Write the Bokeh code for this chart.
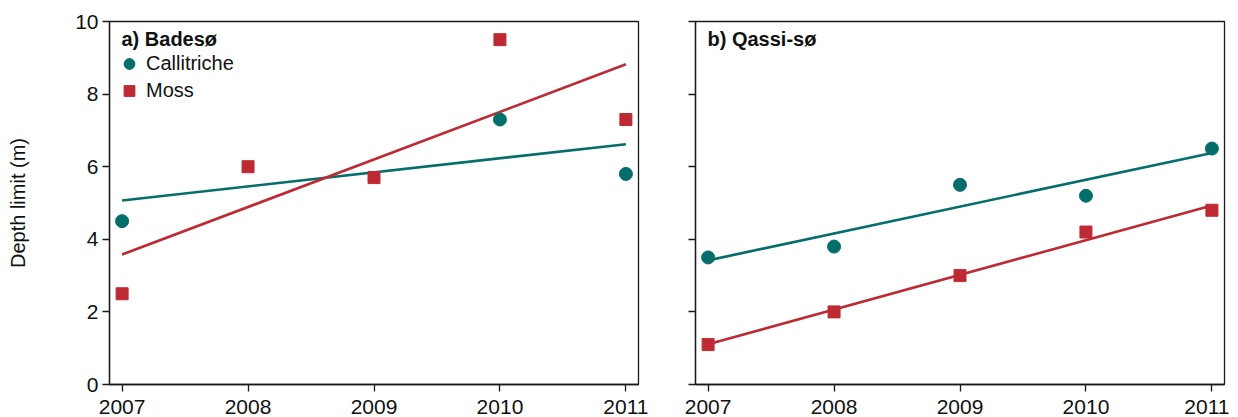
from bokeh.plotting import figure
from bokeh.layouts import row
from bokeh.models import Legend, LegendItem, Label, FixedTicker, Range1d
from bokeh.embed import file_html
from bokeh.resources import INLINE

# ---- data ----
years = [2007, 2008, 2009, 2010, 2011]
bad_call_years = [2007, 2010, 2011]
bad_call = [4.5, 7.3, 5.8]
bad_moss = [2.5, 6.0, 5.7, 9.5, 7.3]
qas_call = [3.5, 3.8, 5.5, 5.2, 6.5]
qas_moss = [1.1, 2.0, 3.0, 4.2, 4.8]
fit_years = [2007, 2011]
bad_call_fit = [5.07, 6.62]
bad_moss_fit = [3.58, 8.82]
qas_call_fit = [3.42, 6.38]
qas_moss_fit = [1.11, 4.93]
yticks = [0, 2, 4, 6, 8, 10]
titles = ["a) Badesø", "b) Qassi-sø"]

TEAL = "#046e6b"
RED = "#be2a33"
FONT = "Liberation Sans"


def make_fig(left_border, right_border, show_ylabels):
    p = figure(frame_width=529, frame_height=363,
               x_range=Range1d(2006.9, 2011.1), y_range=Range1d(0, 10),
               output_backend="svg", toolbar_location=None,
               min_border_left=left_border, min_border_right=right_border,
               min_border_top=21, min_border_bottom=30)
    p.grid.visible = False
    p.outline_line_color = "#1a1a1a"
    p.outline_line_width = 1.3
    p.background_fill_color = "white"
    p.border_fill_color = "white"
    for ax in (p.xaxis[0], p.yaxis[0]):
        ax.axis_line_color = "#1a1a1a"
        ax.axis_line_width = 1.3
        ax.major_tick_line_color = "#1a1a1a"
        ax.major_tick_line_width = 1.3
        ax.major_tick_in = 0
        ax.major_tick_out = 7
        ax.minor_tick_line_color = None
        ax.major_label_text_font = FONT
        ax.major_label_text_font_size = "21px"
        ax.major_label_text_color = "#111111"
    p.xaxis.ticker = FixedTicker(ticks=years)
    p.xaxis.major_label_standoff = 8
    p.yaxis.ticker = FixedTicker(ticks=yticks)
    p.yaxis.major_label_standoff = 4
    if show_ylabels:
        p.yaxis.axis_label = "Depth limit (m)"
        p.yaxis.axis_label_text_font = FONT
        p.yaxis.axis_label_text_font_size = "20px"
        p.yaxis.axis_label_text_font_style = "normal"
        p.yaxis.axis_label_text_color = "#111111"
        p.yaxis.axis_label_standoff = 43
    else:
        p.yaxis.major_label_overrides = {t: "" for t in yticks}
    return p


p1 = make_fig(109, 10, True)
p1.line(fit_years, bad_call_fit, line_color=TEAL, line_width=2.6)
p1.line(fit_years, bad_moss_fit, line_color=RED, line_width=2.6)
c1 = p1.scatter(bad_call_years, bad_call, marker="circle", size=13,
                fill_color=TEAL, line_color=TEAL)
m1 = p1.scatter(years, bad_moss, marker="square", size=12,
                fill_color=RED, line_color=RED)

leg = Legend(items=[LegendItem(label="Callitriche", renderers=[c1]),
                    LegendItem(label="Moss", renderers=[m1])],
             location=(5, 280), padding=0, margin=0,
             glyph_width=30, glyph_height=27, label_height=27, spacing=0,
             label_standoff=2,
             label_text_font=FONT, label_text_font_size="20px",
             label_text_color="#111111",
             border_line_color=None, background_fill_alpha=0)
p1.add_layout(leg)

p2 = make_fig(47, 5, False)
p2.line(fit_years, qas_call_fit, line_color=TEAL, line_width=2.6)
p2.line(fit_years, qas_moss_fit, line_color=RED, line_width=2.6)
p2.scatter(years, qas_call, marker="circle", size=13,
           fill_color=TEAL, line_color=TEAL)
p2.scatter(years, qas_moss, marker="square", size=12,
           fill_color=RED, line_color=RED)

for p, t in ((p1, titles[0]), (p2, titles[1])):
    p.add_layout(Label(x=12, y=357, x_units="screen", y_units="screen",
                       text=t, text_font=FONT, text_font_size="20px",
                       text_font_style="bold", text_baseline="top",
                       text_color="#111111"))

layout = row(p1, p2)
open("out.html", "w").write(file_html(layout, INLINE))
